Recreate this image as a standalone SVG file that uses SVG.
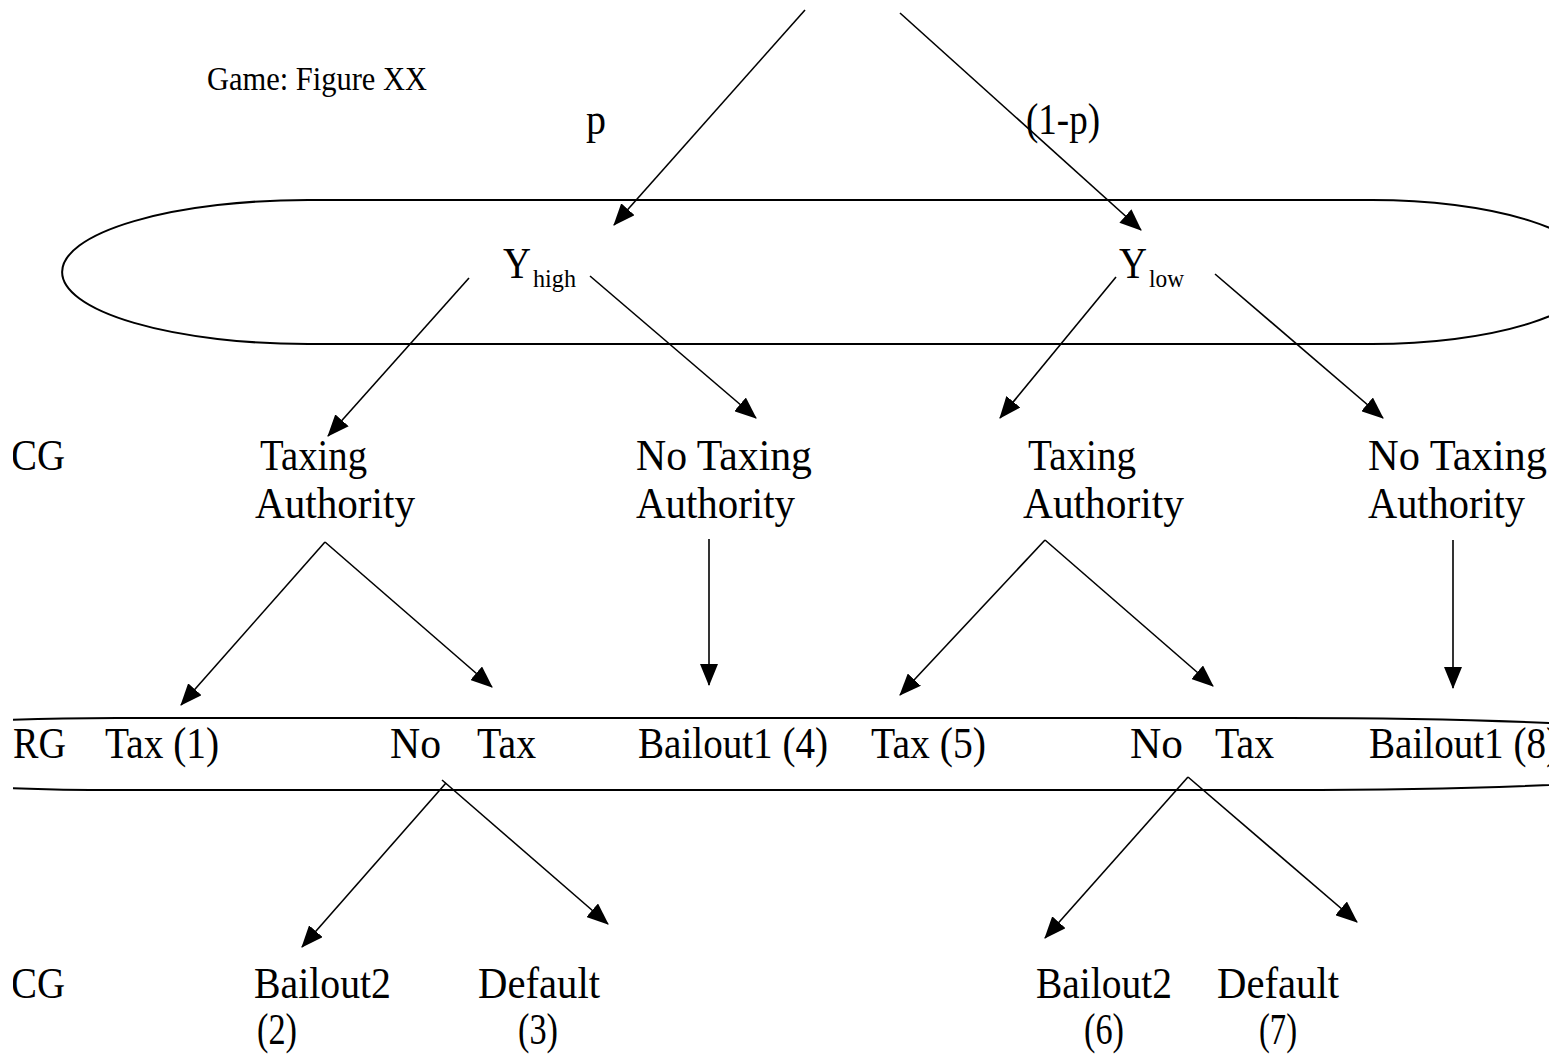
<svg xmlns="http://www.w3.org/2000/svg" width="1566" height="1055" viewBox="0 0 1566 1055">
<style>
text{font-family:"Liberation Serif","Times New Roman",serif;fill:#000;}
.t{font-size:45px;}
.s{font-size:34px;}
.sub{font-size:25px;}
.c{stroke:#000;stroke-width:1.6;fill:none;}
.e{stroke:#000;stroke-width:2;fill:none;}
</style>
<defs>
<marker id="ah" markerUnits="userSpaceOnUse" viewBox="0 0 22 18" refX="21" refY="9" markerWidth="22" markerHeight="18" orient="auto">
<path d="M0,0 L22,9 L0,18 z" fill="#000"/>
</marker>
<clipPath id="clip"><rect x="13" y="0" width="1536" height="1055"/></clipPath>
</defs>
<rect width="1566" height="1055" fill="#fff"/>
<g clip-path="url(#clip)">
<g id="infosets">
<path id="set-upper" class="e" d="M308,200 H1372 A225,72 0 0 1 1372,344 H308 A246,72 0 0 1 308,200 Z"/>
<path id="set-lower" class="e" d="M117,718 H1288 A508,36 0 0 1 1288,790 H117 A320,36 0 0 1 117,718 Z"/>
</g>
<g id="connectors" marker-end="url(#ah)">
<line class="c" x1="805" y1="10" x2="614" y2="225"/>
<line class="c" x1="900" y1="13" x2="1141" y2="230"/>
<line class="c" x1="469" y1="278" x2="328" y2="436"/>
<line class="c" x1="590" y1="276" x2="756" y2="418"/>
<line class="c" x1="1116" y1="277" x2="1000" y2="418"/>
<line class="c" x1="1215" y1="274" x2="1383" y2="418"/>
<line class="c" x1="325" y1="542" x2="181" y2="705"/>
<line class="c" x1="325" y1="542" x2="492" y2="687"/>
<line class="c" x1="709" y1="539" x2="709" y2="685"/>
<line class="c" x1="1045" y1="540" x2="900" y2="695"/>
<line class="c" x1="1045" y1="540" x2="1213" y2="686"/>
<line class="c" x1="1453" y1="540" x2="1453" y2="688"/>
<line class="c" x1="446" y1="783" x2="302" y2="947"/>
<line class="c" x1="442" y1="780" x2="608" y2="924"/>
<line class="c" x1="1188" y1="777" x2="1045" y2="938"/>
<line class="c" x1="1188" y1="777" x2="1357" y2="922"/>
</g>
<g id="title"><text class="s" x="207" y="90" textLength="220" lengthAdjust="spacingAndGlyphs">Game: Figure XX</text></g>
<g id="prob-p"><text class="t" x="586" y="134" textLength="20" lengthAdjust="spacingAndGlyphs">p</text></g>
<g id="prob-1mp"><text class="t" x="1026" y="134" textLength="74" lengthAdjust="spacingAndGlyphs">(1-p)</text></g>
<g id="node-yhigh"><text class="t" x="503" y="278" textLength="28" lengthAdjust="spacingAndGlyphs">Y</text><text class="sub" x="533" y="287" textLength="43" lengthAdjust="spacingAndGlyphs">high</text></g>
<g id="node-ylow"><text class="t" x="1119" y="278" textLength="28" lengthAdjust="spacingAndGlyphs">Y</text><text class="sub" x="1149" y="287" textLength="35" lengthAdjust="spacingAndGlyphs">low</text></g>
<g id="label-cg1"><text class="t" x="11" y="470" textLength="54" lengthAdjust="spacingAndGlyphs">CG</text></g>
<g id="node-ta1"><text class="t" x="260" y="470" textLength="107" lengthAdjust="spacingAndGlyphs">Taxing</text><text class="t" x="255" y="518" textLength="160" lengthAdjust="spacingAndGlyphs">Authority</text></g>
<g id="node-nta1"><text class="t" x="636" y="470" textLength="176" lengthAdjust="spacingAndGlyphs">No Taxing</text><text class="t" x="636" y="518" textLength="159" lengthAdjust="spacingAndGlyphs">Authority</text></g>
<g id="node-ta2"><text class="t" x="1028" y="470" textLength="108" lengthAdjust="spacingAndGlyphs">Taxing</text><text class="t" x="1023" y="518" textLength="161" lengthAdjust="spacingAndGlyphs">Authority</text></g>
<g id="node-nta2"><text class="t" x="1368" y="470" textLength="179" lengthAdjust="spacingAndGlyphs">No Taxing</text><text class="t" x="1368" y="518" textLength="157" lengthAdjust="spacingAndGlyphs">Authority</text></g>
<g id="label-rg"><text class="t" x="13" y="758" textLength="53" lengthAdjust="spacingAndGlyphs">RG</text></g>
<g id="node-tax1"><text class="t" x="105" y="758" textLength="114" lengthAdjust="spacingAndGlyphs">Tax (1)</text></g>
<g id="node-notax1"><text class="t" x="390" y="758" textLength="51" lengthAdjust="spacingAndGlyphs">No</text><text class="t" x="477" y="758" textLength="59" lengthAdjust="spacingAndGlyphs">Tax</text></g>
<g id="node-bailout1-4"><text class="t" x="638" y="758" textLength="190" lengthAdjust="spacingAndGlyphs">Bailout1 (4)</text></g>
<g id="node-tax5"><text class="t" x="871" y="758" textLength="115" lengthAdjust="spacingAndGlyphs">Tax (5)</text></g>
<g id="node-notax2"><text class="t" x="1130" y="758" textLength="53" lengthAdjust="spacingAndGlyphs">No</text><text class="t" x="1215" y="758" textLength="59" lengthAdjust="spacingAndGlyphs">Tax</text></g>
<g id="node-bailout1-8"><text class="t" x="1369" y="758" textLength="190" lengthAdjust="spacingAndGlyphs">Bailout1 (8)</text></g>
<g id="label-cg2"><text class="t" x="11" y="998" textLength="54" lengthAdjust="spacingAndGlyphs">CG</text></g>
<g id="node-bailout2-2"><text class="t" x="254" y="998" textLength="137" lengthAdjust="spacingAndGlyphs">Bailout2</text><text class="t" x="257" y="1044" textLength="40" lengthAdjust="spacingAndGlyphs">(2)</text></g>
<g id="node-default-3"><text class="t" x="478" y="998" textLength="122" lengthAdjust="spacingAndGlyphs">Default</text><text class="t" x="518" y="1044" textLength="40" lengthAdjust="spacingAndGlyphs">(3)</text></g>
<g id="node-bailout2-6"><text class="t" x="1036" y="998" textLength="136" lengthAdjust="spacingAndGlyphs">Bailout2</text><text class="t" x="1084" y="1044" textLength="40" lengthAdjust="spacingAndGlyphs">(6)</text></g>
<g id="node-default-7"><text class="t" x="1217" y="998" textLength="122" lengthAdjust="spacingAndGlyphs">Default</text><text class="t" x="1259" y="1044" textLength="38" lengthAdjust="spacingAndGlyphs">(7)</text></g>
</g>
</svg>
